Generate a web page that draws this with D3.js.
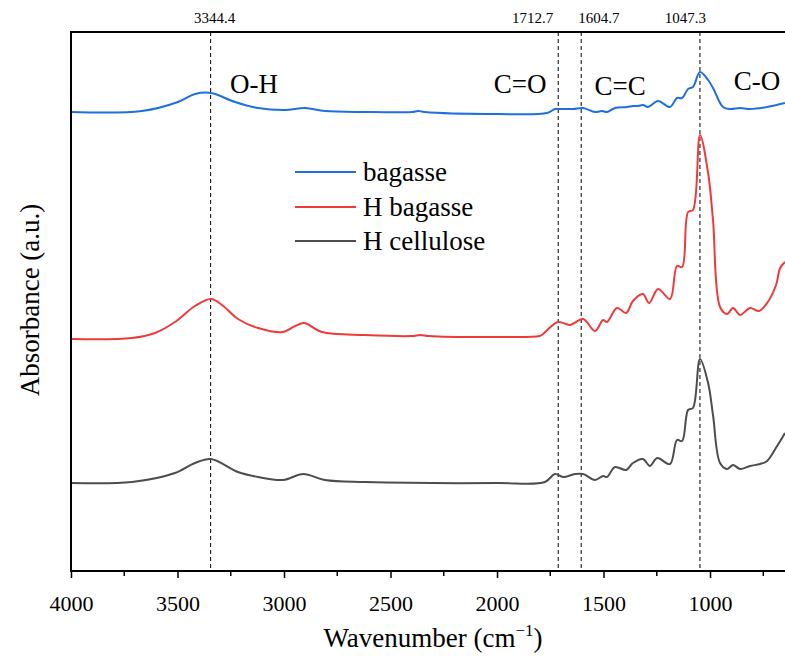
<!DOCTYPE html>
<meta charset='utf-8'>
<style>
body {
    margin: 0;
    background: #fff;
}
svg text {
    font-family: 'Liberation Serif', 'Times New Roman', serif;
    fill: #000;
}
.frame {
    stroke: #000;
    stroke-width: 2px;
    fill: none;
}
.marker {
    stroke: #000;
    stroke-width: 1px;
    stroke-dasharray: 4,3;
}
.spectrum {
    fill: none;
    stroke-width: 2px;
}
</style>
<body>
<div class='chart'></div>
<script src='https://cdn.jsdelivr.net/npm/d3@7'></script>
<script>
// wavenumbers (cm-1) and absorbance (a.u.)
var wnBagasse = [4000, 3667, 3498, 3418, 3343, 3230, 3122, 2995, 2901, 2808, 2620, 2400, 2370, 2340, 2000, 1765, 1728, 1709, 1643, 1596, 1540, 1507, 1484, 1446, 1390, 1362, 1338, 1315, 1291, 1244, 1188, 1155, 1131, 1103, 1080, 1047, 1009, 986, 939, 906, 859, 812, 732, 648];
var absBagasse = [459, 460, 469, 477, 478, 469, 463, 461, 463, 460, 459, 459, 460, 459, 457, 458, 462, 462, 462, 463, 459, 460, 459, 463, 464, 465, 465, 466, 464, 470, 464, 473, 473, 482, 484, 499, 491, 483, 464, 462, 463, 462, 464, 468];

var wnHBagasse = [4000, 3714, 3606, 3512, 3418, 3343, 3291, 3216, 3122, 3005, 2948, 2906, 2822, 2620, 2400, 2360, 2320, 2000, 1800, 1784, 1714, 1657, 1596, 1540, 1502, 1484, 1437, 1394, 1362, 1315, 1286, 1244, 1188, 1155, 1131, 1103, 1080, 1047, 1009, 986, 953, 920, 892, 859, 812, 770, 732, 690, 671, 648];
var absHBagasse = [232, 233, 238, 249, 265, 272, 266, 252, 243, 239, 245, 248, 239, 236, 235, 236, 235, 234, 235, 237, 249, 246, 252, 240, 251, 249, 263, 258, 270, 277, 268, 282, 272, 305, 304, 359, 361, 436, 398, 351, 264, 257, 263, 256, 263, 260, 268, 286, 303, 309];

var wnHCellulose = [4000, 3714, 3512, 3418, 3343, 3216, 3122, 3005, 2910, 2808, 2620, 2000, 1775, 1728, 1690, 1634, 1596, 1540, 1502, 1484, 1446, 1394, 1362, 1315, 1282, 1248, 1188, 1155, 1131, 1103, 1080, 1047, 1009, 986, 953, 920, 892, 859, 812, 765, 732, 685, 648];
var absHCellulose = [88, 89, 98, 108, 112, 99, 94, 91, 97, 91, 89, 88, 89, 97, 94, 97, 97, 91, 95, 94, 104, 101, 108, 112, 105, 113, 107, 131, 130, 161, 163, 212, 188, 156, 108, 102, 106, 102, 105, 107, 110, 125, 138];

var seriesNames = ['bagasse', 'H bagasse', 'H cellulose'];
var seriesColors = ['#1f6fe0', '#ef3a3a', '#4d4d4d'];

var peakPositions = [3344.4, 1712.7, 1604.7, 1047.3];
var peakLabels = ['3344.4', '1712.7', '1604.7', '1047.3'];
var bondLabels = ['O-H', 'C=O', 'C=C', 'C-O'];
var bondPositions = [3141, 1892, 1422, 779];

var xTicks = [4000, 3500, 3000, 2500, 2000, 1500, 1000];
var xMinorTicks = [3750, 3250, 2750, 2250, 1750, 1250, 750];

function drawChart() {
    var width = 785,
        height = 660,
        left = 71,
        right = 785,
        top = 32,
        bottom = 571;

    var svg = d3.select('.chart').append('svg')
        .attr('width', width)
        .attr('height', height);

    svg.append('rect')
        .attr('width', width)
        .attr('height', height)
        .attr('fill', '#fff');

    var x = d3.scaleLinear().domain([4000, 648]).range([left, right]);
    var y = d3.scaleLinear().domain([0, 539]).range([bottom, top]);

    svg.append('defs').append('clipPath')
        .attr('id', 'plot')
        .append('rect')
        .attr('x', left)
        .attr('y', top)
        .attr('width', right - left)
        .attr('height', bottom - top);

    // dashed peak markers
    svg.selectAll('.marker')
        .data(peakPositions)
        .enter().append('line')
        .attr('class', 'marker')
        .attr('x1', function(d) { return x(d); })
        .attr('x2', function(d) { return x(d); })
        .attr('y1', top)
        .attr('y2', bottom);

    var labelAnchors = ['middle', 'end', 'start', 'end'];
    var labelShift = [4, -5, -3, 6];
    svg.selectAll('.peak-label')
        .data(peakPositions)
        .enter().append('text')
        .attr('class', 'peak-label')
        .attr('x', function(d, i) { return x(d) + labelShift[i]; })
        .attr('y', 23)
        .attr('text-anchor', function(d, i) { return labelAnchors[i]; })
        .style('font-size', '15px')
        .text(function(d, i) { return peakLabels[i]; });

    // spectra
    var sets = [
        [wnBagasse, absBagasse],
        [wnHBagasse, absHBagasse],
        [wnHCellulose, absHCellulose]
    ];

    var line = d3.line()
        .x(function(d) { return x(d[0]); })
        .y(function(d) { return y(d[1]); })
        .curve(d3.curveCatmullRom.alpha(0.5));

    var g = svg.append('g').attr('clip-path', 'url(#plot)');
    sets.forEach(function(s, i) {
        g.append('path')
            .datum(d3.zip(s[0], s[1]))
            .attr('class', 'spectrum')
            .attr('stroke', seriesColors[i])
            .attr('d', line);
    });

    // bond labels
    var bondY = [93, 93, 95, 90];
    svg.selectAll('.bond')
        .data(bondLabels)
        .enter().append('text')
        .attr('class', 'bond')
        .attr('x', function(d, i) { return x(bondPositions[i]); })
        .attr('y', function(d, i) { return bondY[i]; })
        .attr('text-anchor', 'middle')
        .style('font-size', '27px')
        .text(function(d) { return d; });

    // legend
    var legend = svg.append('g');
    var legendY = [172, 207, 241];
    seriesNames.forEach(function(name, i) {
        legend.append('line')
            .attr('x1', 295)
            .attr('x2', 356)
            .attr('y1', legendY[i])
            .attr('y2', legendY[i])
            .attr('stroke', seriesColors[i])
            .attr('stroke-width', 2);
        legend.append('text')
            .attr('x', 363)
            .attr('y', legendY[i] + 9)
            .style('font-size', '27px')
            .text(name);
    });

    // frame
    svg.append('path')
        .attr('class', 'frame')
        .attr('d', 'M' + right + ',' + top + 'H' + left + 'V' + bottom + 'H' + right);

    // x axis
    var axis = svg.append('g')
        .attr('transform', 'translate(0,' + bottom + ')')
        .call(d3.axisBottom(x).tickValues(xTicks).tickSize(7).tickFormat(d3.format('d')));
    axis.select('.domain').remove();
    axis.selectAll('.tick line').attr('stroke-width', 1.5);
    axis.selectAll('.tick text')
        .attr('dy', null)
        .attr('y', 40)
        .style('font-family', "'Liberation Serif', serif")
        .style('font-size', '22px');

    svg.append('g')
        .attr('transform', 'translate(0,' + bottom + ')')
        .selectAll('line')
        .data(xMinorTicks)
        .enter().append('line')
        .attr('x1', function(d) { return x(d); })
        .attr('x2', function(d) { return x(d); })
        .attr('y1', 0)
        .attr('y2', 5)
        .attr('stroke', '#000')
        .attr('stroke-width', 1.5);

    var xt = svg.append('text')
        .attr('x', 433)
        .attr('y', 647)
        .attr('text-anchor', 'middle')
        .style('font-size', '27px');
    xt.append('tspan').text('Wavenumber (cm');
    xt.append('tspan').attr('dy', -11).style('font-size', '17px').text('\u22121');
    xt.append('tspan').attr('dy', 11).text(')');

    svg.append('text')
        .attr('transform', 'translate(39,300) rotate(-90)')
        .attr('text-anchor', 'middle')
        .style('font-size', '27px')
        .text('Absorbance (a.u.)');
}

drawChart();
</script>
</body>
